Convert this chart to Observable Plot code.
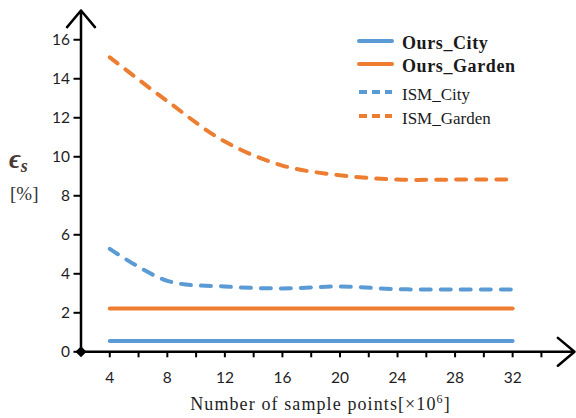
<!DOCTYPE html>
<html>
<head>
<meta charset="utf-8">
<script src="https://cdn.jsdelivr.net/npm/d3@7"></script>
<script src="https://cdn.jsdelivr.net/npm/@observablehq/plot@0.6"></script>
<style>
  html, body { margin: 0; padding: 0; background: #fff; }
  #wrap { position: relative; width: 576px; height: 418px; overflow: hidden; }
  .ov { position: absolute; white-space: nowrap; font-family: "Liberation Serif", "Times New Roman", serif; color: #222; }
  .leg { position: absolute; left: 357px; }
  .leg svg { position: absolute; left: 0; }
  .leg span { position: absolute; left: 45px; font-family: "Liberation Serif", serif; font-size: 17px; color: #1a1a1a; white-space: nowrap; line-height: 1; }
</style>
</head>
<body>
<div id="wrap"></div>
<script>
const xs = [4, 8, 12, 16, 20, 24, 28, 32];
const oursCity = [0.55, 0.55, 0.55, 0.55, 0.55, 0.55, 0.55, 0.55];
const oursGarden = [2.22, 2.22, 2.22, 2.22, 2.22, 2.22, 2.22, 2.22];
const ismCity = [5.28, 3.64, 3.35, 3.25, 3.35, 3.21, 3.2, 3.2];
const ismGarden = [15.1, 12.85, 10.78, 9.55, 9.05, 8.83, 8.83, 8.83];
const seriesNames = ["Ours_City", "Ours_Garden", "ISM_City", "ISM_Garden"];
const seriesColors = ["#5b9bd5", "#ed7d31", "#5b9bd5", "#ed7d31"];
const seriesDashed = [false, false, true, true];
const xTicks = [4, 6, 8, 10, 12, 14, 16, 18, 20, 22, 24, 26, 28, 30, 32, 34];
const yTicks = [0, 2, 4, 6, 8, 10, 12, 14, 16];
const xDomain = [2, 36.3];
const yDomain = [0, 17.5];

const seriesValues = [oursCity, oursGarden, ismCity, ismGarden];
const rows = (vals) => xs.map((x, i) => ({x, y: vals[i]}));

const lineMarks = seriesValues.map((vals, k) => Plot.line(rows(vals), {
  x: "x", y: "y",
  stroke: seriesColors[k],
  strokeWidth: 4,
  strokeLinecap: "round",
  strokeLinejoin: "round",
  strokeDasharray: seriesDashed[k] ? "10,10" : null,
  curve: seriesDashed[k] ? "catmull-rom" : "linear"
}));

const axesArrows = [
  {x1: xDomain[0], y1: yDomain[0], x2: xDomain[1], y2: yDomain[0]},
  {x1: xDomain[0], y1: yDomain[0], x2: xDomain[0], y2: yDomain[1]}
];

const chart = Plot.plot({
  width: 576,
  height: 418,
  marginLeft: 80.5,
  marginRight: 2,
  marginTop: 10,
  marginBottom: 66.7,
  x: {domain: xDomain},
  y: {domain: yDomain},
  style: {fontFamily: "Lato, 'Open Sans', sans-serif", fontSize: "15.5px", color: "#1e1e1e", background: "#fff"},
  marks: [
    Plot.axisY({ticks: yTicks, tickSize: 7, tickPadding: 4, strokeWidth: 2, stroke: "#000", label: null}),
    Plot.axisX({ticks: xTicks, tickFormat: d => d % 4 === 0 ? String(d) : "", tickSize: 6, tickPadding: 14, strokeWidth: 2, stroke: "#000", label: null}),
    ...lineMarks,
    Plot.arrow(axesArrows, {x1: "x1", y1: "y1", x2: "x2", y2: "y2", stroke: "#000", strokeWidth: 2.5, headLength: 13, headAngle: 80}),
    Plot.dot([{x: xDomain[0], y: yDomain[0]}], {x: "x", y: "y", symbol: "diamond2", r: 5, fill: "#000"})
  ]
});

const wrap = document.getElementById("wrap");
wrap.appendChild(chart);

// Axis titles
const xt = document.createElement("div");
xt.className = "ov";
xt.style.cssText = "left:0;width:641px;top:392px;text-align:center;font-size:18px;letter-spacing:1.1px;color:#1e1e1e;";
xt.innerHTML = "Number of sample points[×10<sup style='font-size:12px;vertical-align:7px'>6</sup>]";
wrap.appendChild(xt);

const yt = document.createElement("div");
yt.className = "ov";
yt.style.cssText = "left:9px;top:144px;font-size:27px;font-weight:bold;font-style:italic;color:#4a3a38;";
yt.innerHTML = "ϵ<span style='font-size:18px;position:relative;top:4px;'>s</span>";
wrap.appendChild(yt);

const yp = document.createElement("div");
yp.className = "ov";
yp.style.cssText = "left:10px;top:183px;font-size:19px;color:#333;";
yp.textContent = "[%]";
wrap.appendChild(yp);

// Legend
const legTops = [41, 63.5, 92, 116];
seriesNames.forEach((name, k) => {
  const g = document.createElement("div");
  g.className = "leg";
  g.style.top = legTops[k] + "px";
  const dash = seriesDashed[k] ? "stroke-dasharray='8,5'" : "";
  const bold = !seriesDashed[k];
  g.innerHTML = `<svg width="40" height="8" style="top:-4px"><line x1="2" y1="4" x2="35" y2="4" stroke="${seriesColors[k]}" stroke-width="4" ${dash} stroke-linecap="${seriesDashed[k] ? "butt" : "round"}"/></svg>` +
    `<span style="top:${bold ? -7 : -6}px;font-weight:${bold ? "bold" : "normal"};font-size:${bold ? 18 : 17}px;letter-spacing:${bold ? 0.6 : 0}px">${name}</span>`;
  wrap.appendChild(g);
});
</script>
</body>
</html>
